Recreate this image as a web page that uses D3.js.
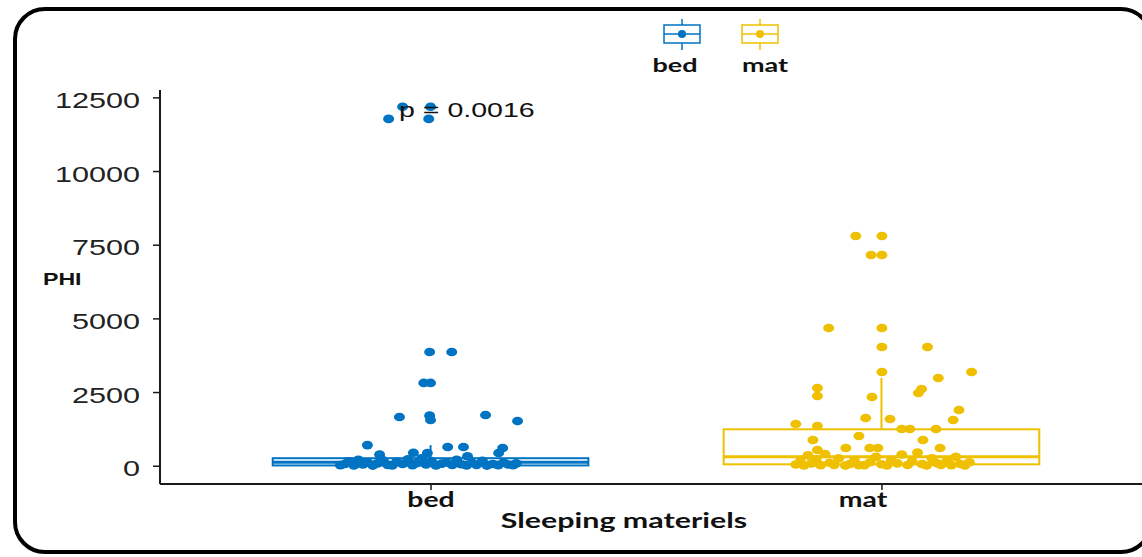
<!DOCTYPE html>
<html>
<head>
<meta charset="utf-8">
<script src="https://cdn.jsdelivr.net/npm/d3@7"></script>
<style>
  body { margin: 0; background: #ffffff; }
  svg { display: block; }
</style>
</head>
<body>
<svg id="chart" width="1142" height="557"></svg>
<script>
// ---- data ----
const categories = ["bed", "mat"];
const groupColors = ["#0073C2", "#EFC000"];
const yTicks = [0, 2500, 5000, 7500, 10000, 12500];

// box summaries per group (bed, mat)
const boxQ1 = [10, 48];
const boxMedian = [115, 305];
const boxQ3 = [255, 1236];
const whiskerLow = [0, 0];
const whiskerHigh = [700, 2977];

// PHI observations with their jitter (fraction of the category step)
const bedValues = [
  12180, 12180, 11770, 11770, 3860, 3860, 2810, 2810, 1655, 1700, 1550, 1720, 1520,
  700, 380, 440, 430, 635, 635, 320, 600, 430,
  20, 60, 150, 10, 200, 40, 120, 5, 80, 180, 30, 10, 140, 60, 220, 15, 90, 250, 40,
  160, 8, 70, 120, 25, 200, 50, 10, 100, 30, 170, 5, 60, 20, 110, 40, 15, 80
];
const bedJitter = [
  -0.062, 0.000, -0.093, -0.004, -0.002, 0.047, -0.015, 0.000, -0.069, -0.002, 0.000, 0.122, 0.193,
  -0.140, -0.113, -0.038, -0.007, 0.038, 0.073, 0.082, 0.160, 0.151,
  -0.200, -0.190, -0.182, -0.170, -0.160, -0.150, -0.140, -0.128, -0.118, -0.105, -0.095, -0.085,
  -0.075, -0.062, -0.050, -0.040, -0.030, -0.020, -0.010, 0.002, 0.012, 0.025, 0.035, 0.048, 0.058,
  0.068, 0.080, 0.092, 0.102, 0.115, 0.125, 0.138, 0.150, 0.162, 0.172, 0.183, 0.190
];

const matValues = [
  7797, 7797, 7152, 7152, 4674, 4674, 4029, 4029, 3181, 2977, 3181, 2638, 2366, 2604, 2468, 2332,
  1619, 1585, 1890, 1551, 1415, 1348, 1246, 1246, 1246, 1008, 872, 872, 533, 601, 601, 601, 601,
  40, 150, 10, 350, 80, 220, 20, 400, 100, 30, 250, 5, 60, 180, 15, 20, 120, 300, 50, 10, 200,
  80, 380, 25, 150, 450, 60, 10, 250, 90, 30, 170, 20, 300, 60, 10, 120
];
const matJitter = [
  -0.057, 0.001, -0.023, 0.001, -0.117, 0.001, 0.001, 0.102, 0.001, 0.126, 0.200, -0.142, -0.142,
  0.089, 0.082, -0.021, -0.035, 0.019, 0.172, 0.159, -0.190, -0.142, 0.045, 0.063, 0.121, -0.050,
  -0.152, 0.092, -0.142, -0.079, -0.026, -0.008, 0.130,
  -0.190, -0.180, -0.172, -0.163, -0.155, -0.145, -0.135, -0.125, -0.115, -0.105, -0.095, -0.080,
  -0.070, -0.060, -0.050, -0.038, -0.025, -0.012, 0.000, 0.012, 0.022, 0.035, 0.045, 0.058, 0.068,
  0.080, 0.090, 0.100, 0.112, 0.122, 0.132, 0.145, 0.155, 0.165, 0.175, 0.185, 0.195
];

const pLabel = "p = 0.0016";
const yTitle = "PHI";
const xTitle = "Sleeping materiels";

// ---- layout ----
const svg = d3.select("#chart");
const panel = { left: 160, right: 1152, top: 90, bottom: 484 };
const SX = 1.36; // horizontal stretch applied to text glyphs
const ink = "#1a1a1a";
const boldFont = "Lato, 'Open Sans', sans-serif";
const plainFont = "'Liberation Sans', Arial, sans-serif";

const x = d3.scalePoint().domain(categories).range([panel.left, panel.right]).padding(0.6);
const step = x.step();
const y = d3.scaleLinear().domain([-620, 12750]).range([panel.bottom, panel.top]);

// place a text element at (px,py) with horizontal stretch
function stretched(sel, px, py, sx = SX) {
  return sel.attr("x", 0).attr("y", 0)
    .attr("transform", `translate(${px},${py}) scale(${sx},1)`);
}

// rounded outer frame
svg.append("rect")
  .attr("x", 15).attr("y", 9)
  .attr("width", 1136).attr("height", 543)
  .attr("rx", 30).attr("ry", 30)
  .attr("fill", "none").attr("stroke", "#000").attr("stroke-width", 4);

// boxes
categories.forEach((c, i) => {
  const cx = x(c), w = step * 0.7, col = groupColors[i];
  const g = svg.append("g").attr("class", "box");
  g.append("line")
    .attr("x1", cx).attr("x2", cx)
    .attr("y1", y(boxQ3[i])).attr("y2", y(whiskerHigh[i]))
    .attr("stroke", col).attr("stroke-width", 2);
  g.append("line")
    .attr("x1", cx).attr("x2", cx)
    .attr("y1", y(boxQ1[i])).attr("y2", y(whiskerLow[i]))
    .attr("stroke", col).attr("stroke-width", 2);
  g.append("rect")
    .attr("x", cx - w / 2).attr("width", w)
    .attr("y", y(boxQ3[i])).attr("height", y(boxQ1[i]) - y(boxQ3[i]))
    .attr("fill", "none").attr("stroke", col).attr("stroke-width", 2);
  g.append("line")
    .attr("x1", cx - w / 2).attr("x2", cx + w / 2)
    .attr("y1", y(boxMedian[i])).attr("y2", y(boxMedian[i]))
    .attr("stroke", col).attr("stroke-width", 3);
});

// jittered points
const groups = [
  { cat: "bed", values: bedValues, jitter: bedJitter, color: groupColors[0] },
  { cat: "mat", values: matValues, jitter: matJitter, color: groupColors[1] }
];
groups.forEach(gr => {
  svg.append("g").selectAll("ellipse")
    .data(gr.values.map((v, k) => ({ v, j: gr.jitter[k] })))
    .join("ellipse")
    .attr("cx", d => x(gr.cat) + d.j * step)
    .attr("cy", d => y(d.v))
    .attr("rx", 5.5).attr("ry", 4.3)
    .attr("fill", gr.color);
});

// y axis
const yAxis = svg.append("g")
  .attr("transform", `translate(${panel.left},0)`)
  .call(d3.axisLeft(y).tickValues(yTicks).tickSize(7).tickSizeOuter(0).tickFormat(d3.format("d")));
yAxis.select(".domain").attr("stroke", ink).attr("stroke-width", 2)
  .attr("d", `M0,${panel.top}V${panel.bottom}`);
yAxis.selectAll(".tick line").attr("stroke", ink).attr("stroke-width", 1.5);
yAxis.selectAll(".tick text").each(function () {
  d3.select(this).attr("dy", null).attr("text-anchor", "end")
    .attr("font-family", plainFont)
    .attr("font-size", 22).attr("fill", "#222")
    .attr("x", 0).attr("y", 0)
    .attr("transform", `translate(-20,10) scale(1.39,1)`);
});

// x axis
const tickLabelShift = { bed: 0, mat: -19 };
const xAxis = svg.append("g")
  .attr("transform", `translate(0,${panel.bottom})`)
  .call(d3.axisBottom(x).tickSize(6).tickSizeOuter(0));
xAxis.select(".domain").attr("stroke", ink).attr("stroke-width", 2)
  .attr("d", `M${panel.left},0H${panel.right}`);
xAxis.selectAll(".tick line").attr("stroke", ink).attr("stroke-width", 1.5);
xAxis.selectAll(".tick text").each(function (d) {
  d3.select(this).attr("dy", null).attr("text-anchor", "middle")
    .attr("font-family", boldFont).attr("font-weight", 700)
    .attr("font-size", 20).attr("fill", "#111")
    .attr("x", 0).attr("y", 0)
    .attr("transform", `translate(${tickLabelShift[d]},23) scale(1.42,1)`);
});

// axis titles
stretched(svg.append("text").text(xTitle), 624, 528, 1.52)
  .attr("text-anchor", "middle")
  .attr("font-family", boldFont).attr("font-weight", 700)
  .attr("font-size", 20).attr("fill", "#111");
stretched(svg.append("text").text(yTitle), 43, 285)
  .attr("font-family", plainFont).attr("font-weight", 700)
  .attr("font-size", 17).attr("fill", "#111");

// p-value annotation
stretched(svg.append("text").text(pLabel), 399, 117)
  .attr("font-family", plainFont)
  .attr("font-size", 21).attr("fill", "#111");

// legend
const legendX = [682, 760];
const legendLabelX = [675, 765];
categories.forEach((c, i) => {
  const cx = legendX[i], col = groupColors[i];
  const g = svg.append("g").attr("class", "legend-key");
  g.append("line").attr("x1", cx).attr("x2", cx).attr("y1", 19).attr("y2", 50)
    .attr("stroke", col).attr("stroke-width", 1.5);
  g.append("rect").attr("x", cx - 18).attr("y", 25).attr("width", 36).attr("height", 18)
    .attr("fill", "#fff").attr("stroke", col).attr("stroke-width", 1.5);
  g.append("line").attr("x1", cx - 18).attr("x2", cx + 18).attr("y1", 34).attr("y2", 34)
    .attr("stroke", col).attr("stroke-width", 1.5);
  g.append("circle").attr("cx", cx).attr("cy", 34).attr("r", 4).attr("fill", col);
  stretched(g.append("text").text(c), legendLabelX[i], 72, 1.42)
    .attr("text-anchor", "middle")
    .attr("font-family", boldFont).attr("font-weight", 700)
    .attr("font-size", 19).attr("fill", "#111");
});
</script>
</body>
</html>
